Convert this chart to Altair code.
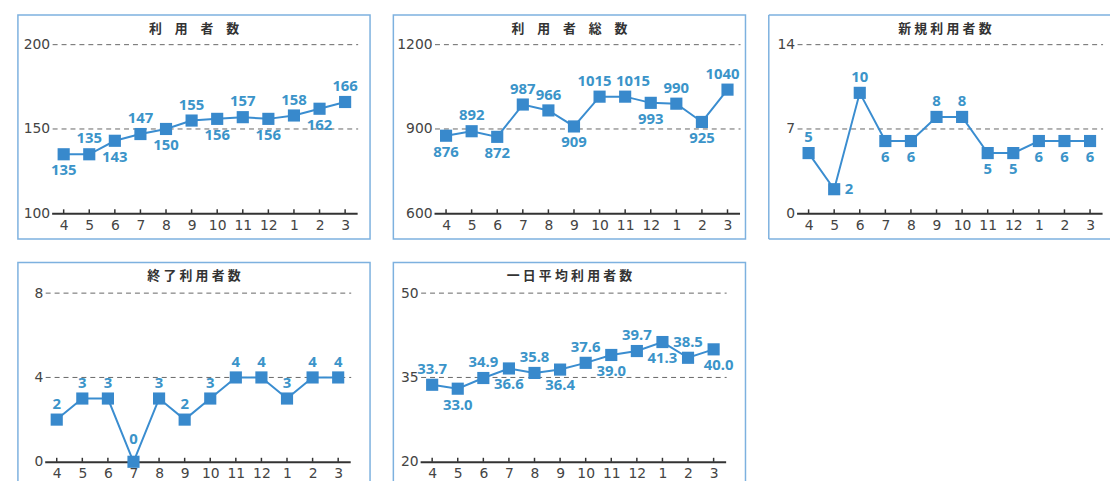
import altair as alt
import pandas as pd

months = ["4", "5", "6", "7", "8", "9", "10", "11", "12", "1", "2", "3"]

users = [135, 135, 143, 147, 150, 155, 156, 157, 156, 158, 162, 166]
total_users = [876, 892, 872, 987, 966, 909, 1015, 1015, 993, 990, 925, 1040]
new_users = [5, 2, 10, 6, 6, 8, 8, 5, 5, 6, 6, 6]
ended_users = [2, 3, 3, 0, 3, 2, 3, 4, 4, 3, 4, 4]
daily_avg = [33.7, 33.0, 34.9, 36.6, 35.8, 36.4, 37.6, 39.0, 39.7, 41.3, 38.5, 40.0]

titles = ["利　用　者　数", "利　用　者　総　数", "新\u2005規\u2005利\u2005用\u2005者\u2005数",
          "終\u2005了\u2005利\u2005用\u2005者\u2005数", "一\u2005日\u2005平\u2005均\u2005利\u2005用\u2005者\u2005数"]

y_ticks_users = [100, 150, 200]
y_ticks_total = [600, 900, 1200]
y_ticks_new = [0, 7, 14]
y_ticks_ended = [0, 4, 8]
y_ticks_daily = [20, 35, 50]

# label placement code for each point (see OFFSETS below)
place_users = ["b", "a", "b", "a", "b", "a", "b", "a", "b", "a", "b", "a"]
place_total = ["b", "a", "b", "a", "a", "b", "al", "ar", "b", "a", "b", "al"]
place_new = ["a", "r", "a", "b", "b", "a", "a", "b", "b", "b", "b", "b"]
place_ended = ["a", "a", "a", "a0", "a", "a", "a", "a", "a", "a", "a", "a"]
place_daily = ["a", "b", "a", "b", "a", "b", "a", "b", "a", "b", "a", "br"]

OFFSETS = {"a": (0, -16), "b": (0, 16), "r": (15, 0), "a0": (0, -23),
           "al": (-5, -16), "ar": (8, -16), "br": (5, 16)}

FONT_CJK = "Noto Sans CJK JP"
FONT_AXIS = "DejaVu Sans"
FONT_LABEL = "Noto Sans"
LINE_COLOR = "#3a8dd0"
MARK_COLOR = "#3889cc"
LABEL_COLOR = "#3b94c9"
BORDER = "#7db1df"
W, H = 308, 170          # inner plot area
FH = 226                 # frame height

panels = [
    dict(vals=users, ticks=y_ticks_users, fmt="d", place=place_users, PL=35, PT=30, FW=355, open_right=False),
    dict(vals=total_users, ticks=y_ticks_total, fmt="d", place=place_total, PL=42, PT=30, FW=355, open_right=False),
    dict(vals=new_users, ticks=y_ticks_new, fmt="d", place=place_new, PL=29, PT=30, FW=344, open_right=True),
    dict(vals=ended_users, ticks=y_ticks_ended, fmt="d", place=place_ended, PL=28, PT=31, FW=355, open_right=False),
    dict(vals=daily_avg, ticks=y_ticks_daily, fmt=".1f", place=place_daily, PL=28, PT=31, FW=355, open_right=False),
]

one = pd.DataFrame({"k": [0]})


def frame_layers(FW, open_right):
    if not open_right:
        return [alt.Chart(one).mark_rect(filled=False, stroke=BORDER, strokeWidth=1.5).encode(
            x=alt.value(0), x2=alt.value(FW), y=alt.value(0), y2=alt.value(FH))]
    rl = dict(color=BORDER, strokeWidth=1.5, strokeCap="butt")
    return [
        alt.Chart(one).mark_rule(**rl).encode(x=alt.value(0), x2=alt.value(FW), y=alt.value(0)),
        alt.Chart(one).mark_rule(**rl).encode(x=alt.value(0), x2=alt.value(FW), y=alt.value(FH)),
        alt.Chart(one).mark_rule(**rl).encode(x=alt.value(0), y=alt.value(0), y2=alt.value(FH)),
    ]


charts = []
for p, title in zip(panels, titles):
    PL, PT, FW = p["PL"], p["PT"], p["FW"]
    lo, mid, hi = p["ticks"]
    df = pd.DataFrame({"month": months, "value": p["vals"], "pos": p["place"]})
    grid_df = pd.DataFrame({"value": [mid, hi]})
    base = alt.Chart(df)
    xenc = alt.X(
        "month:N", sort=months,
        scale=alt.Scale(type="point", padding=0.47, range=[PL - 1, PL + W - 1]),
        axis=alt.Axis(title=None, labelAngle=0, ticks=False, grid=False,
                      domainColor="#333333", domainWidth=2,
                      offset=-(FH - PT - H),
                      labelFont=FONT_AXIS, labelFontSize=14, labelColor="#444444",
                      labelPadding=5),
    )
    yenc = alt.Y(
        "value:Q",
        scale=alt.Scale(domain=[lo, hi], nice=False, zero=False, range=[PT + H, PT]),
        axis=alt.Axis(title=None, values=[lo, mid, hi], format="d", domain=False,
                      ticks=False, grid=False, offset=-PL,
                      labelFont=FONT_AXIS, labelFontSize=14, labelColor="#444444",
                      labelPadding=3),
    )
    layers = frame_layers(FW, p["open_right"])
    layers.append(alt.Chart(one).mark_text(
        text=title, font=FONT_CJK, fontSize=13, fontWeight="bold", color="#333333",
        align="center", baseline="middle",
    ).encode(x=alt.value(355 / 2), y=alt.value(14)))
    layers.append(alt.Chart(grid_df).mark_rule(color="#666666", strokeWidth=1, strokeDash=[5, 4]).encode(
        y=yenc, x=alt.value(PL), x2=alt.value(PL + W)))
    layers.append(base.mark_rule(color="#333333", strokeWidth=1.5).encode(
        x=xenc, y=alt.value(PT + H - 4), y2=alt.value(PT + H)))
    layers.append(base.mark_line(color=LINE_COLOR, strokeWidth=2).encode(x=xenc, y=yenc))
    layers.append(base.mark_square(size=150, color=MARK_COLOR, opacity=1).encode(x=xenc, y=yenc))
    txt = alt.Text("value:Q", format=p["fmt"])
    for code in sorted(set(p["place"])):
        dx, dy = OFFSETS[code]
        layers.append(
            base.transform_filter(f"datum.pos == '{code}'").mark_text(
                dx=dx, dy=dy, align="center", baseline="middle", font=FONT_LABEL,
                fontSize=15, fontWeight="bold", color=LABEL_COLOR,
            ).encode(x=xenc, y=yenc, text=txt)
        )
    charts.append(alt.layer(*layers).properties(width=FW, height=FH))

row1 = alt.hconcat(charts[0], charts[1], charts[2], spacing=21.5)
row2 = alt.hconcat(charts[3], charts[4], spacing=21.5)
chart = alt.vconcat(row1, row2, spacing=21.5).properties(
    padding={"left": 9, "top": 4, "right": 0, "bottom": 0}
).configure_view(strokeWidth=0)

chart.save("out.html", embed_options={"renderer": "svg", "actions": False})
